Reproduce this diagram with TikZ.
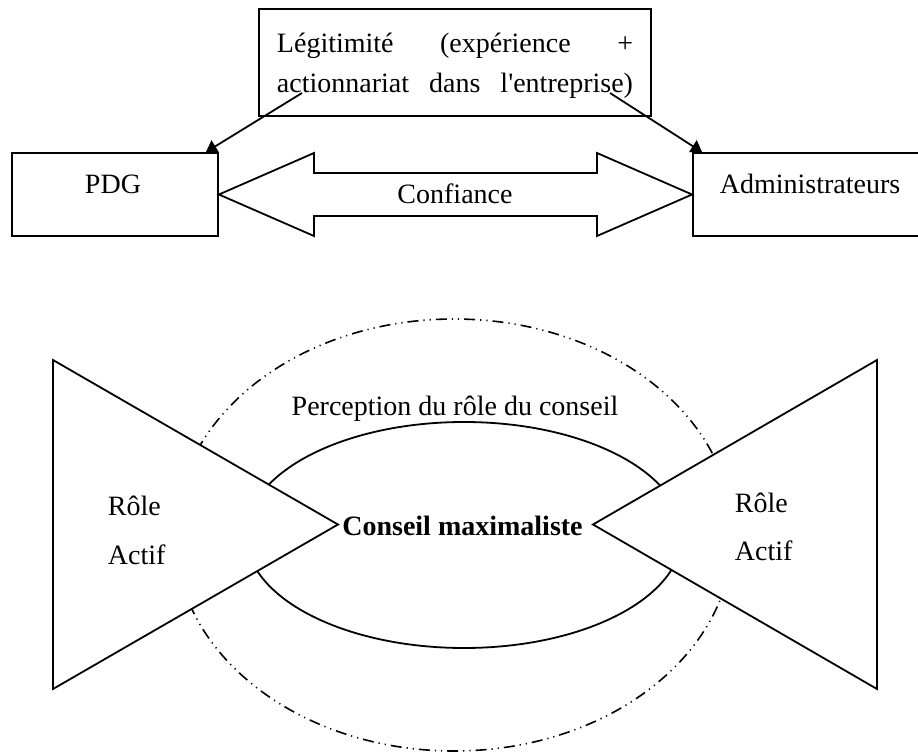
\documentclass[tikz,border=0pt]{standalone}
\usepackage{fontspec}
\setmainfont{Liberation Serif}
\usetikzlibrary{arrows.meta}
\begin{document}
\begin{tikzpicture}[x = 0.5pt, y = -0.5pt, line width = 0.9pt,
  box/.style = {draw, inner sep = 0pt},
  lbl/.style = {inner sep = 0pt, font = \fontsize{14}{20}\selectfont},
  arr/.style = {-{Triangle[length = 5.5pt, width = 7pt]}},
  dashdotdot/.style = {line width = 0.8pt, dash pattern = on 5.5pt off 2.5pt on 0.6pt off 2.5pt on 0.6pt off 2.5pt}]
\useasboundingbox (0,0) rectangle (918,756);
% haut : legitimite, PDG, administrateurs
\node[box, minimum width = 196pt, minimum height = 53.5pt] (legit) at (455,62.5) {};
\node[lbl, anchor = base] (legit1) at (455,52) {\makebox[178pt][s]{Légitimité (expérience +}};
\node[lbl, anchor = base] (legit2) at (455,92) {\makebox[178pt][s]{actionnariat dans l\textquotesingle entreprise)}};
\node[box, minimum width = 103pt, minimum height = 41.5pt] (pdg) at (115,194.5) {};
\node[lbl, anchor = base] (pdgtxt) at (113,193) {PDG};
\node[box, minimum width = 113.5pt, minimum height = 41.5pt] (admin) at (806.5,194.5) {};
\node[lbl, anchor = base] (admintxt) at (810,193) {Administrateurs};
\coordinate (lsrc) at (302,93);
\coordinate (rsrc) at (610,93);
\draw[arr] (lsrc) -- ([xshift = -6.5pt]pdg.north east);
\draw[arr] (rsrc) -- ([xshift = 5pt]admin.north west);
\draw (pdg.east) -- (314,153) -- (314,173) -- (597,173) -- (597,153) -- (admin.west)
  -- (597,236) -- (597,216) -- (314,216) -- (314,236) -- cycle;
\node[lbl, anchor = base] (confiance) at (455,203) {Confiance};
% bas : perception du role
\draw[dashdotdot] (454,535) ellipse [x radius = 139.5pt, y radius = 108pt];
\draw (464,535) ellipse [x radius = 109pt, y radius = 56.5pt];
\filldraw[fill = white] (53,360) -- (338,524.5) -- (53,689) -- cycle;
\filldraw[fill = white] (877,360) -- (593,524.5) -- (877,689) -- cycle;
\node[lbl, anchor = base] (perception) at (455,415) {Perception du rôle du conseil};
\node[lbl, anchor = base, font = \fontsize{14}{20}\selectfont\bfseries] (conseil) at (462.5,535) {Conseil maximaliste};
\node[lbl, anchor = base west] (role1) at (107,515) {Rôle};
\node[lbl, anchor = base west] (actif1) at (107,564) {Actif};
\node[lbl, anchor = base west] (role2) at (734,512) {Rôle};
\node[lbl, anchor = base west] (actif2) at (734,560) {Actif};
\end{tikzpicture}
\end{document}
